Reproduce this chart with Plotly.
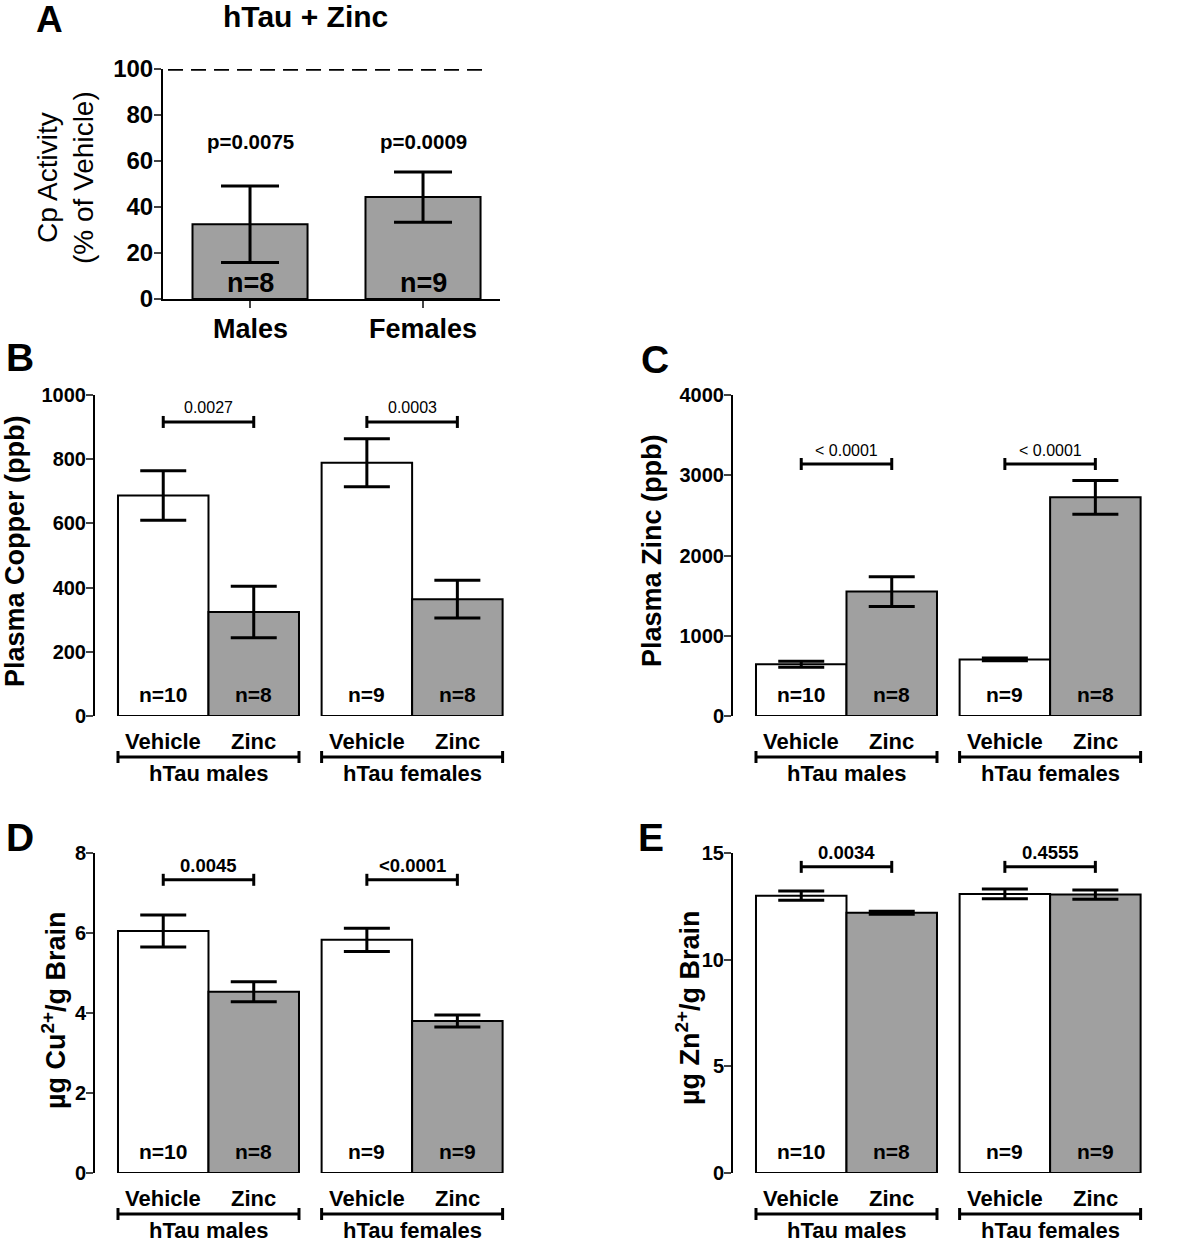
import plotly.graph_objects as go

# ---------------- data ----------------
sexes_A = ["Males", "Females"]
cp_mean = [32.5, 44.3]
cp_sem = [16.6, 10.9]
n_A = ["n=8", "n=9"]
p_A = ["p=0.0075", "p=0.0009"]

groups = ["hTau males", "hTau females"]
treatments = ["Vehicle", "Zinc"]

cu_plasma_vehicle = [687, 789]
cu_plasma_vehicle_sem = [77, 75]
cu_plasma_zinc = [324, 364]
cu_plasma_zinc_sem = [80, 59]
cu_plasma_p = ["0.0027", "0.0003"]

zn_plasma_vehicle = [645, 705]
zn_plasma_vehicle_sem = [38, 18]
zn_plasma_zinc = [1550, 2725]
zn_plasma_zinc_sem = [185, 210]
zn_plasma_p = ["< 0.0001", "< 0.0001"]

cu_brain_vehicle = [6.05, 5.83]
cu_brain_vehicle_sem = [0.40, 0.29]
cu_brain_zinc = [4.53, 3.80]
cu_brain_zinc_sem = [0.25, 0.15]
cu_brain_p = ["0.0045", "<0.0001"]

zn_brain_vehicle = [13.0, 13.08]
zn_brain_vehicle_sem = [0.22, 0.23]
zn_brain_zinc = [12.2, 13.05]
zn_brain_zinc_sem = [0.07, 0.22]
zn_brain_p = ["0.0034", "0.4555"]

n_vehicle_plasma = [10, 9]
n_zinc_plasma = [8, 8]
n_vehicle_brain = [10, 9]
n_zinc_brain = [8, 9]

# ---------------- layout helpers ----------------
W, H = 1200, 1243
FONT = "Liberation Sans, Arial, Helvetica, sans-serif"
GRAY = "#a0a0a0"


def px(x):
    return x / W


def py(y):
    return 1 - y / H


def ann(**kw):
    d = dict(showarrow=False, xanchor="center", yanchor="middle")
    d.update(kw)
    return d


fig = go.Figure()
annotations = []
shapes = []

# ---------------- Panel A ----------------
fig.add_trace(go.Bar(
    x=[0, 1], y=cp_mean, width=0.665,
    marker=dict(color=GRAY, line=dict(color="black", width=2)),
    error_y=dict(type="data", array=cp_sem, color="black", thickness=3, width=29),
    xaxis="x", yaxis="y", showlegend=False, hoverinfo="skip"))

fig.update_layout(
    xaxis=dict(domain=[px(163), px(500)], range=[-0.503, 1.445], showline=True,
               linecolor="black", linewidth=2, ticks="outside", ticklen=7, tickwidth=2,
               tickvals=[0, 1], showticklabels=False, showgrid=False, zeroline=False,
               fixedrange=True, automargin=False, anchor="y"),
    yaxis=dict(domain=[py(299), py(69)], range=[0, 100], showline=True, linecolor="black",
               linewidth=2, ticks="outside", ticklen=7, tickwidth=2, tickvals=[0, 20, 40, 60, 80, 100],
               tickfont=dict(family=FONT, size=24, color="black", weight="bold"),
               ticklabelstandoff=-4,
               showgrid=False, zeroline=False, anchor="x", automargin=False),
)
shapes.append(dict(type="line", xref="x", yref="y", x0=(168 - 250) / 173, x1=(483 - 250) / 173,
                   y0=100, y1=100, line=dict(color="black", width=3.5, dash="15px,8px")))
for i in range(2):
    annotations.append(ann(xref="x", yref="paper", x=i, y=py(329), text="<b>%s</b>" % sexes_A[i],
                           font=dict(family=FONT, size=27, color="black")))
    annotations.append(ann(xref="x", yref="y", x=i, y=0, yshift=16, text="<b>%s</b>" % n_A[i],
                           font=dict(family=FONT, size=27, color="black")))
    annotations.append(ann(xref="x", yref="paper", x=i, y=py(142), text="<b>%s</b>" % p_A[i],
                           font=dict(family=FONT, size=20.5, color="black")))
annotations.append(ann(xref="paper", yref="paper", x=px(65), y=py(178), textangle=-90,
                       text="Cp Activity<br>(% of Vehicle)",
                       font=dict(family=FONT, size=28, color="black")))
annotations.append(ann(xref="paper", yref="paper", x=px(305), y=py(16),
                       text="<b>hTau + Zinc</b>",
                       font=dict(family=FONT, size=30, color="black")))

# ---------------- Panels B-E ----------------
XR = [-0.754, -0.754 + 465 / 90.5]
GROUP_OFFSET = 2.25

panels = [
    dict(ax="2", xdom=(95, 560), ydom=(716, 395), yr=[0, 1000], tv=[0, 200, 400, 600, 800, 1000],
         veh=cu_plasma_vehicle, veh_sem=cu_plasma_vehicle_sem, zn=cu_plasma_zinc, zn_sem=cu_plasma_zinc_sem,
         p=cu_plasma_p, pbold=False, psize=16, bracket=916, nv=n_vehicle_plasma, nz=n_zinc_plasma,
         ytitle="<b>Plasma Copper (ppb)</b>", ytx=15, yty=551, letter="B", lx=20, ly=357),
    dict(ax="3", xdom=(733, 1198), ydom=(716, 395), yr=[0, 4000], tv=[0, 1000, 2000, 3000, 4000],
         veh=zn_plasma_vehicle, veh_sem=zn_plasma_vehicle_sem, zn=zn_plasma_zinc, zn_sem=zn_plasma_zinc_sem,
         p=zn_plasma_p, pbold=False, psize=16, bracket=3140, nv=n_vehicle_plasma, nz=n_zinc_plasma,
         ytitle="<b>Plasma Zinc (ppb)</b>", ytx=652, yty=551, letter="C", lx=655, ly=359),
    dict(ax="4", xdom=(95, 560), ydom=(1173, 853), yr=[0, 8], tv=[0, 2, 4, 6, 8],
         veh=cu_brain_vehicle, veh_sem=cu_brain_vehicle_sem, zn=cu_brain_zinc, zn_sem=cu_brain_zinc_sem,
         p=cu_brain_p, pbold=True, psize=18.5, bracket=7.33, nv=n_vehicle_brain, nz=n_zinc_brain,
         ytitle="<b>µg Cu<sup>2+</sup>/g Brain</b>", ytx=54, yty=1010, letter="D", lx=20, ly=837),
    dict(ax="5", xdom=(733, 1198), ydom=(1173, 853), yr=[0, 15], tv=[0, 5, 10, 15],
         veh=zn_brain_vehicle, veh_sem=zn_brain_vehicle_sem, zn=zn_brain_zinc, zn_sem=zn_brain_zinc_sem,
         p=zn_brain_p, pbold=True, psize=18.5, bracket=14.35, nv=n_vehicle_brain, nz=n_zinc_brain,
         ytitle="<b>µg Zn<sup>2+</sup>/g Brain</b>", ytx=688, yty=1008, letter="E", lx=651, ly=837),
]

for P in panels:
    xa, ya = "x" + P["ax"], "y" + P["ax"]
    xv = [g * GROUP_OFFSET for g in range(2)]
    xz = [g * GROUP_OFFSET + 1 for g in range(2)]
    fig.add_trace(go.Bar(
        x=xv, y=P["veh"], width=1,
        marker=dict(color="white", line=dict(color="black", width=2)),
        error_y=dict(type="data", array=P["veh_sem"], color="black", thickness=3, width=23),
        xaxis=xa, yaxis=ya, showlegend=False, hoverinfo="skip"))
    fig.add_trace(go.Bar(
        x=xz, y=P["zn"], width=1,
        marker=dict(color=GRAY, line=dict(color="black", width=2)),
        error_y=dict(type="data", array=P["zn_sem"], color="black", thickness=3, width=23),
        xaxis=xa, yaxis=ya, showlegend=False, hoverinfo="skip"))
    fig.update_layout(**{
        "xaxis" + P["ax"]: dict(domain=[px(P["xdom"][0]), px(P["xdom"][1])], range=XR, visible=False,
                                anchor=ya, fixedrange=True, automargin=False),
        "yaxis" + P["ax"]: dict(domain=[py(P["ydom"][0]), py(P["ydom"][1])], range=P["yr"],
                                showline=True, linecolor="black", linewidth=2, ticks="outside",
                                ticklen=7, tickwidth=2, tickvals=P["tv"],
                                tickfont=dict(family=FONT, size=20, color="black", weight="bold"),
                                ticklabelstandoff=-4,
                                showgrid=False, zeroline=False, anchor=xa, automargin=False),
    })
    bottom = P["ydom"][0]
    for g in range(2):
        x0 = g * GROUP_OFFSET
        # significance bracket
        shapes.append(dict(type="line", xref=xa, yref=ya, x0=x0, x1=x0 + 1,
                           y0=P["bracket"], y1=P["bracket"], line=dict(color="black", width=3)))
        for xe in (x0, x0 + 1):
            shapes.append(dict(type="line", xref=xa, yref=ya, ysizemode="pixel", yanchor=P["bracket"],
                               x0=xe, x1=xe, y0=-6, y1=6, line=dict(color="black", width=3)))
        ptxt = "<b>%s</b>" % P["p"][g] if P["pbold"] else P["p"][g]
        annotations.append(ann(xref=xa, yref=ya, x=x0 + 0.5, y=P["bracket"], yshift=14,
                               text=ptxt, font=dict(family=FONT, size=P["psize"], color="black")))
        # n labels
        annotations.append(ann(xref=xa, yref=ya, x=x0, y=0, yshift=22,
                               text="<b>n=%d</b>" % P["nv"][g],
                               font=dict(family=FONT, size=21, color="black")))
        annotations.append(ann(xref=xa, yref=ya, x=x0 + 1, y=0, yshift=22,
                               text="<b>n=%d</b>" % P["nz"][g],
                               font=dict(family=FONT, size=21, color="black")))
        # treatment labels
        for t in range(2):
            annotations.append(ann(xref=xa, yref="paper", x=x0 + t, y=py(bottom + 25),
                                   text="<b>%s</b>" % treatments[t],
                                   font=dict(family=FONT, size=22, color="black")))
        # group bracket
        yl = py(bottom + 41)
        shapes.append(dict(type="line", xref=xa, yref="paper", x0=x0 - 0.5, x1=x0 + 1.5,
                           y0=yl, y1=yl, line=dict(color="black", width=3)))
        for xe in (x0 - 0.5, x0 + 1.5):
            shapes.append(dict(type="line", xref=xa, yref="paper", x0=xe, x1=xe,
                               y0=py(bottom + 35), y1=py(bottom + 47), line=dict(color="black", width=3)))
        annotations.append(ann(xref=xa, yref="paper", x=x0 + 0.5, y=py(bottom + 57),
                               text="<b>%s</b>" % groups[g],
                               font=dict(family=FONT, size=22, color="black")))
    annotations.append(ann(xref="paper", yref="paper", x=px(P["ytx"]), y=py(P["yty"]), textangle=-90,
                           text=P["ytitle"], font=dict(family=FONT, size=27, color="black")))
    annotations.append(ann(xref="paper", yref="paper", x=px(P["lx"]), y=py(P["ly"]),
                           text="<b>%s</b>" % P["letter"],
                           font=dict(family=FONT, size=39, color="black")))

annotations.append(ann(xref="paper", yref="paper", x=px(49), y=py(19), text="<b>A</b>",
                       font=dict(family=FONT, size=37, color="black")))

fig.update_layout(
    width=W, height=H, margin=dict(l=0, r=0, t=0, b=0, autoexpand=False),
    paper_bgcolor="white", plot_bgcolor="white",
    barmode="overlay", annotations=annotations, shapes=shapes,
    font=dict(family=FONT, color="black"),
)

fig.write_html("out.html", config={"displayModeBar": False},
               post_script="document.body.style.margin='0';")
